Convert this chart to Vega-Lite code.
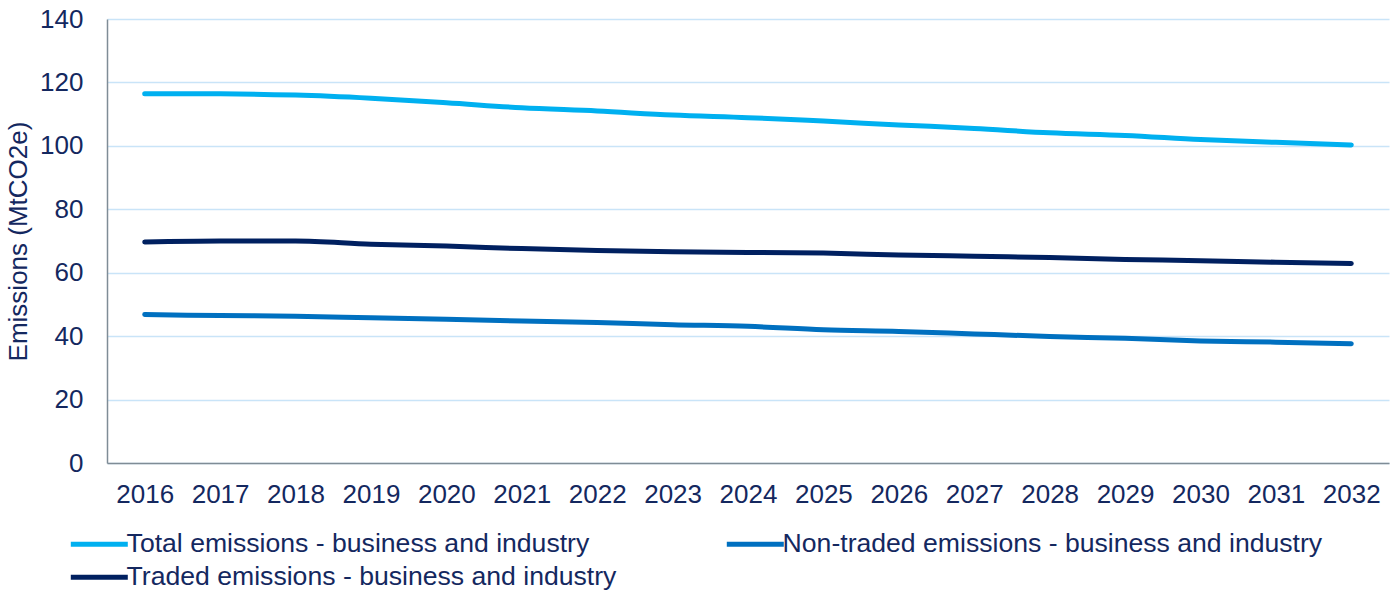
{
  "$schema": "https://vega.github.io/schema/vega-lite/v6.json",
  "width": 1282,
  "height": 444,
  "autosize": "none",
  "padding": {"left": 107, "top": 19, "right": 6, "bottom": 128},
  "background": "white",
  "config": {
    "font": "Liberation Sans",
    "view": {"stroke": null}
  },
  "data": {
    "values": [
      {"year": "2016", "series": "Total emissions - business and industry", "value": 116.4},
      {"year": "2017", "series": "Total emissions - business and industry", "value": 116.4},
      {"year": "2018", "series": "Total emissions - business and industry", "value": 116.0},
      {"year": "2019", "series": "Total emissions - business and industry", "value": 115.0},
      {"year": "2020", "series": "Total emissions - business and industry", "value": 113.6},
      {"year": "2021", "series": "Total emissions - business and industry", "value": 112.0},
      {"year": "2022", "series": "Total emissions - business and industry", "value": 111.0},
      {"year": "2023", "series": "Total emissions - business and industry", "value": 109.7},
      {"year": "2024", "series": "Total emissions - business and industry", "value": 108.9},
      {"year": "2025", "series": "Total emissions - business and industry", "value": 107.8},
      {"year": "2026", "series": "Total emissions - business and industry", "value": 106.6},
      {"year": "2027", "series": "Total emissions - business and industry", "value": 105.5},
      {"year": "2028", "series": "Total emissions - business and industry", "value": 104.1},
      {"year": "2029", "series": "Total emissions - business and industry", "value": 103.3},
      {"year": "2030", "series": "Total emissions - business and industry", "value": 102.0},
      {"year": "2031", "series": "Total emissions - business and industry", "value": 101.1},
      {"year": "2032", "series": "Total emissions - business and industry", "value": 100.3},
      {"year": "2016", "series": "Non-traded emissions - business and industry", "value": 46.8},
      {"year": "2017", "series": "Non-traded emissions - business and industry", "value": 46.5},
      {"year": "2018", "series": "Non-traded emissions - business and industry", "value": 46.3},
      {"year": "2019", "series": "Non-traded emissions - business and industry", "value": 45.8},
      {"year": "2020", "series": "Non-traded emissions - business and industry", "value": 45.3},
      {"year": "2021", "series": "Non-traded emissions - business and industry", "value": 44.8},
      {"year": "2022", "series": "Non-traded emissions - business and industry", "value": 44.3},
      {"year": "2023", "series": "Non-traded emissions - business and industry", "value": 43.6},
      {"year": "2024", "series": "Non-traded emissions - business and industry", "value": 43.1},
      {"year": "2025", "series": "Non-traded emissions - business and industry", "value": 42.0},
      {"year": "2026", "series": "Non-traded emissions - business and industry", "value": 41.5},
      {"year": "2027", "series": "Non-traded emissions - business and industry", "value": 40.7},
      {"year": "2028", "series": "Non-traded emissions - business and industry", "value": 39.9},
      {"year": "2029", "series": "Non-traded emissions - business and industry", "value": 39.3},
      {"year": "2030", "series": "Non-traded emissions - business and industry", "value": 38.5},
      {"year": "2031", "series": "Non-traded emissions - business and industry", "value": 38.1},
      {"year": "2032", "series": "Non-traded emissions - business and industry", "value": 37.6},
      {"year": "2016", "series": "Traded emissions - business and industry", "value": 69.7},
      {"year": "2017", "series": "Traded emissions - business and industry", "value": 70.0},
      {"year": "2018", "series": "Traded emissions - business and industry", "value": 70.0},
      {"year": "2019", "series": "Traded emissions - business and industry", "value": 69.0},
      {"year": "2020", "series": "Traded emissions - business and industry", "value": 68.4},
      {"year": "2021", "series": "Traded emissions - business and industry", "value": 67.6},
      {"year": "2022", "series": "Traded emissions - business and industry", "value": 67.0},
      {"year": "2023", "series": "Traded emissions - business and industry", "value": 66.6},
      {"year": "2024", "series": "Traded emissions - business and industry", "value": 66.4},
      {"year": "2025", "series": "Traded emissions - business and industry", "value": 66.2},
      {"year": "2026", "series": "Traded emissions - business and industry", "value": 65.6},
      {"year": "2027", "series": "Traded emissions - business and industry", "value": 65.2},
      {"year": "2028", "series": "Traded emissions - business and industry", "value": 64.8},
      {"year": "2029", "series": "Traded emissions - business and industry", "value": 64.2},
      {"year": "2030", "series": "Traded emissions - business and industry", "value": 63.8},
      {"year": "2031", "series": "Traded emissions - business and industry", "value": 63.3},
      {"year": "2032", "series": "Traded emissions - business and industry", "value": 62.9}
    ]
  },
  "mark": {"type": "line", "strokeWidth": 5, "strokeCap": "round", "interpolate": "monotone"},
  "encoding": {
    "x": {
      "field": "year",
      "type": "ordinal",
      "scale": {"type": "point", "padding": 0.5},
      "axis": {
        "title": null,
        "labelAngle": 0,
        "labelFontSize": 26,
        "labelColor": "#14285F",
        "labelPadding": 18,
        "ticks": false,
        "domainColor": "#7F8C96",
        "domainWidth": 1.5,
        "grid": false
      }
    },
    "y": {
      "field": "value",
      "type": "quantitative",
      "scale": {"domain": [0, 140], "nice": false},
      "axis": {
        "values": [0, 20, 40, 60, 80, 100, 120, 140],
        "title": "Emissions (MtCO2e)",
        "titleFontSize": 26,
        "titleFontWeight": "normal",
        "titleColor": "#14285F",
        "titlePadding": 8,
        "labelFontSize": 26,
        "labelColor": "#14285F",
        "labelPadding": 24,
        "ticks": false,
        "domainColor": "#7F8C96",
        "domainWidth": 1.5,
        "grid": true,
        "gridColor": "#C9E4F8",
        "gridWidth": 1.5
      }
    },
    "color": {
      "field": "series",
      "type": "nominal",
      "scale": {
        "domain": ["Total emissions - business and industry", "Non-traded emissions - business and industry", "Traded emissions - business and industry"],
        "range": ["#00B0F0", "#0070C0", "#002060"]
      },
      "legend": {
        "title": null,
        "orient": "none",
        "legendX": -40,
        "legendY": 512,
        "direction": "horizontal",
        "columns": 2,
        "columnPadding": 99,
        "rowPadding": 6,
        "symbolType": "M-1,0H5",
        "symbolSize": 361,
        "symbolStrokeWidth": 5,
        "labelFontSize": 26.6,
        "labelColor": "#14285F",
        "labelOffset": 33,
        "labelLimit": 800
      }
    }
  }
}
